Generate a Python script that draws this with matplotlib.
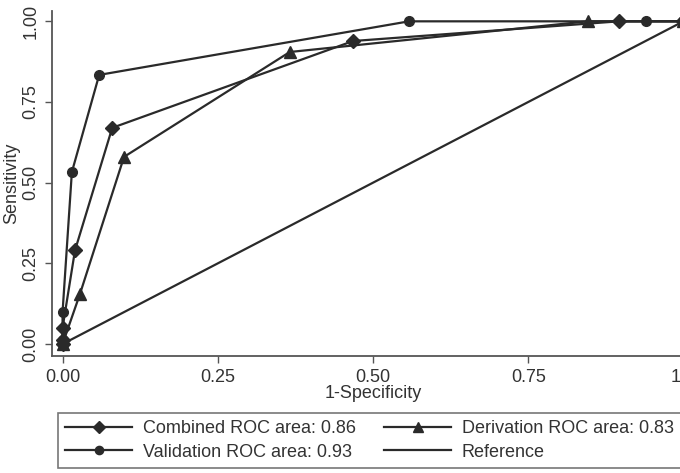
import matplotlib
matplotlib.use("Agg")
import matplotlib.pyplot as plt
from matplotlib.transforms import ScaledTranslation

plt.rcParams['font.family'] = ['Liberation Sans', 'DejaVu Sans']

# Data
combined_x = [0.0, 0.0, 0.0, 0.02, 0.08, 0.468, 0.896, 1.0]
combined_y = [0.0, 0.012, 0.05, 0.29, 0.67, 0.939, 1.0, 1.0]
derivation_x = [0.0, 0.028, 0.099, 0.366, 0.846, 1.0]
derivation_y = [0.0, 0.155, 0.58, 0.905, 1.0, 1.0]
validation_x = [0.0, 0.0, 0.0, 0.015, 0.059, 0.558, 0.94, 1.0]
validation_y = [0.0, 0.012, 0.099, 0.533, 0.834, 1.0, 1.0, 1.0]
reference_x = [0.0, 1.0]
reference_y = [0.0, 1.0]
labels = ["Combined ROC area: 0.86", "Derivation ROC area: 0.83",
          "Validation ROC area: 0.93", "Reference"]
xticks = [0, 0.25, 0.5, 0.75, 1]
xticklabels = ["0.00", "0.25", "0.50", "0.75", "1"]
yticks = [0, 0.25, 0.5, 0.75, 1]
yticklabels = ["0.00", "0.25", "0.50", "0.75", "1.00"]

W, H = 680, 473
fig = plt.figure(figsize=(W / 100, H / 100), dpi=100)
left, right, top, bottom = 52, 694, 11, 356
ax = fig.add_axes([left / W, 1 - bottom / H, (right - left) / W, (bottom - top) / H])

lc = '#2a2a2a'
lw = 1.6
h1, = ax.plot(combined_x, combined_y, color=lc, lw=lw, marker='D', ms=7, mfc=lc, mec=lc)
h2, = ax.plot(derivation_x, derivation_y, color=lc, lw=lw, marker='^', ms=8, mfc=lc, mec=lc)
h3, = ax.plot(validation_x, validation_y, color=lc, lw=lw, marker='o', ms=7, mfc=lc, mec=lc)
h4, = ax.plot(reference_x, reference_y, color=lc, lw=lw)

ax.set_xlim(-0.017, 1.017)
ax.set_ylim(-0.037, 1.032)
ax.set_xticks(xticks)
ax.set_xticklabels(xticklabels)
ax.set_yticks(yticks)
ax.set_yticklabels(yticklabels, rotation=90, va='center')
ax.tick_params(axis='both', labelsize=13, length=5, width=1, color='#555555', labelcolor='#333333', pad=4)
# keep the last x tick label inside the image (as in the reference)
lastlab = ax.get_xticklabels()[-1]
lastlab.set_transform(lastlab.get_transform() + ScaledTranslation(-8 / 100, 0, fig.dpi_scale_trans))
for s in ['top', 'right']:
    ax.spines[s].set_visible(False)
for s in ['left', 'bottom']:
    ax.spines[s].set_color('#555555')
    ax.spines[s].set_linewidth(1.3)
ax.set_xlabel("1-Specificity", fontsize=13, color='#333333', labelpad=0)
ax.set_ylabel("Sensitivity", fontsize=13, color='#333333', labelpad=2)

# column-major order: col1 = Combined, Validation; col2 = Derivation, Reference
handles = [h1, h3, h2, h4]
leg_labels = [labels[0], labels[2], labels[1], labels[3]]
leg = fig.legend(handles, leg_labels, ncol=2, loc='lower left',
                 bbox_to_anchor=(58 / W, 1 - 468 / H, (681 - 58) / W, (468 - 412) / H),
                 mode='expand', fontsize=13, frameon=True, fancybox=False,
                 edgecolor='#555555', handlelength=3.7, handletextpad=0.6,
                 borderaxespad=0, borderpad=0.4, labelspacing=0.35, markerscale=0.85,
                 columnspacing=1.0)
leg.get_frame().set_linewidth(1.2)
for t in leg.get_texts():
    t.set_color('#333333')

fig.savefig("out.png", dpi=100)
